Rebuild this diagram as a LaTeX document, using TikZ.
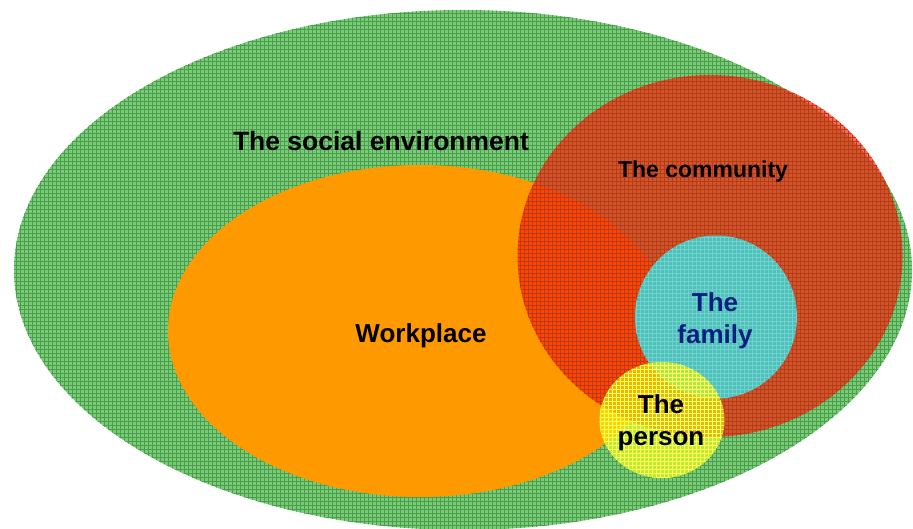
\documentclass[tikz,border=0pt]{standalone}
\usepackage{fontspec}
\setmainfont{Liberation Sans}
\usetikzlibrary{shapes.geometric, patterns, positioning}

\definecolor{socialgreen}{HTML}{78CC78}
\definecolor{socialline}{HTML}{4C9C4C}
\definecolor{workorange}{HTML}{FF9900}
\definecolor{commred}{HTML}{FF1800}
\definecolor{commline}{HTML}{B83A1A}
\definecolor{famcyan}{HTML}{4EC0BC}
\definecolor{famline}{HTML}{72D2CC}
\definecolor{famtext}{HTML}{0B1F80}
\definecolor{persyellow}{HTML}{F0FF00}
\definecolor{persline}{HTML}{FFFF60}

\pgfdeclarepatternformonly{finegrid}{\pgfqpoint{-1pt}{-1pt}}{\pgfqpoint{5pt}{5pt}}{\pgfqpoint{4pt}{4pt}}%
{
  \pgfsetlinewidth{0.5pt}
  \pgfpathmoveto{\pgfqpoint{0pt}{0pt}}
  \pgfpathlineto{\pgfqpoint{4.1pt}{0pt}}
  \pgfpathmoveto{\pgfqpoint{0pt}{0pt}}
  \pgfpathlineto{\pgfqpoint{0pt}{4.1pt}}
  \pgfusepath{stroke}
}

\begin{document}
\begin{tikzpicture}[x=1pt, y=-1pt,
    zone/.style={ellipse, inner sep=0pt, outer sep=0pt},
    gridded/.style={postaction={pattern=finegrid, pattern color=#1}},
    lbl/.style={font=\bfseries\fontsize{26}{32}\selectfont, align=center, inner sep=0pt}]
  \useasboundingbox (0,0) rectangle (913,529);

  \node[zone, minimum width=898pt, minimum height=520pt, fill=socialgreen, gridded=socialline] (social) at (463,270) {};
  \node[zone, minimum width=504pt, minimum height=332pt, fill=workorange] (work) at (420,331) {};
  \node[zone, minimum width=385pt, minimum height=362pt, fill=commred, fill opacity=0.65, gridded=commline] (community) at (710,256) {};
  \node[zone, minimum width=162pt, minimum height=163pt, fill=famcyan, gridded=famline] (family) at (716,317) {};
  \node[zone, minimum width=125pt, minimum height=116pt, fill=persyellow, fill opacity=0.6, gridded=persline] (person) at (662,420) {};

  \node[lbl, font=\bfseries\fontsize{26.5}{32}\selectfont] (socialtext) at (381,141) {The social environment};
  \node[lbl, font=\bfseries\fontsize{23}{28}\selectfont, anchor=base] (communitytext) at (703,178) {The community};
  \node[lbl, anchor=base] (worktext) at (421,342) {Workplace};
  \node[lbl, text=famtext] (familytext) at (715,321) {The\\family};
  \node[lbl] (persontext) at (661,423) {The\\person};
\end{tikzpicture}
\end{document}
